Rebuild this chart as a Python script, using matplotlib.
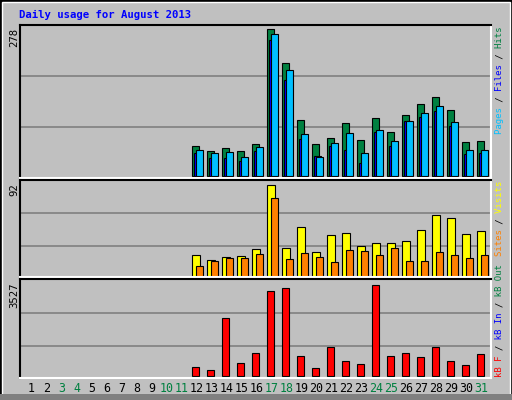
import matplotlib
matplotlib.use("Agg")
import matplotlib.pyplot as plt
from matplotlib.patches import Rectangle

days = list(range(1, 32))
weekend_days = [3, 4, 10, 11, 17, 18, 24, 25, 31]
active_days = list(range(12, 32))
hits = [57, 48, 53, 48, 61, 278, 214, 106, 61, 72, 101, 69, 110, 84, 116, 137, 150, 125, 65, 67]
files = [44, 35, 35, 29, 48, 257, 182, 70, 38, 57, 50, 25, 84, 57, 104, 112, 123, 95, 42, 44]
pages = [50, 44, 46, 36, 55, 269, 201, 80, 36, 63, 82, 44, 88, 67, 104, 120, 133, 103, 50, 50]
visits = [22, 17, 20, 21, 28, 92, 29, 50, 25, 42, 44, 31, 34, 34, 36, 47, 62, 59, 43, 46]
sites = [11, 16, 19, 19, 23, 79, 18, 24, 20, 15, 27, 26, 22, 29, 16, 16, 25, 22, 19, 22]
kbytes = [318, 204, 2190, 471, 853, 3221, 3373, 738, 280, 1082, 547, 433, 3488, 738, 853, 700, 1082, 547, 395, 815]
max_labels = ["278", "92", "3527"]
title = "Daily usage for August 2013"

W, H = 512, 400
fig = plt.figure(figsize=(W/100, H/100), dpi=100)
fig.patch.set_facecolor("#C0C0C0")
FONT = "DejaVu Sans Mono"
FS = 7.2

# outer 3D border
fig.patches.append(Rectangle((0, 0), 1, 1, transform=fig.transFigure, fill=False, lw=2.5, ec="black"))
fig.patches.append(Rectangle((2/W, 2/H), 1-4/W, 1-4/H, transform=fig.transFigure, fill=False, lw=1, ec="white"))
fig.patches.append(Rectangle((0, 0), 1, 6/H, transform=fig.transFigure, fc="#808080", ec="none"))

def add_ax(top, bottom, left=20, right=491):
    ax = fig.add_axes([left/W, 1-bottom/H, (right-left)/W, (bottom-top)/H])
    ax.set_facecolor("#C0C0C0")
    for s in ["left", "top"]:
        ax.spines[s].set_color("black"); ax.spines[s].set_linewidth(1.5)
    for s in ["right", "bottom"]:
        ax.spines[s].set_color("white"); ax.spines[s].set_linewidth(1.5)
    ax.set_xticks([]); ax.set_yticks([])
    ax.set_xlim(0.233, 31.63)
    return ax

def grid(ax, vals):
    for v in vals:
        ax.axhline(v, color="#808080", lw=1.2, zorder=0)

kw = dict(align="edge", edgecolor="black", linewidth=0.8)

ax1 = add_ax(25, 178)
ax1.set_ylim(-3.8, 286)
grid(ax1, [92.9, 189.5])
ax1.bar([d-0.33 for d in active_days], hits, width=0.48, color="#008040", **kw)
ax1.bar([d-0.2 for d in active_days], files, width=0.48, color="#0000FF", **kw)
ax1.bar([d-0.06 for d in active_days], pages, width=0.5, color="#00BFFF", **kw)

ax2 = add_ax(180, 277)
ax2.set_ylim(-0.3, 96.7)
grid(ax2, [30.7, 63.7])
ax2.bar([d-0.33 for d in active_days], visits, width=0.55, color="#FFFF00", **kw)
ax2.bar([d-0.06 for d in active_days], sites, width=0.5, color="#FF8000", **kw)

ax3 = add_ax(279, 378)
ax3.set_ylim(-88, 3699)
grid(ax3, [1136, 2397])
ax3.bar([d-0.33 for d in active_days], kbytes, width=0.48, color="#FF0000", **kw)

# title
fig.text(19/W, 1-15/H, title, family=FONT, fontsize=FS+0.5, weight="bold", color="#0000FF", va="center", ha="left")

# left max labels
for lab, top in zip(max_labels, [28, 183, 282]):
    fig.text(14/W, 1-top/H, lab, family=FONT, fontsize=FS+0.5, rotation=90, ha="center", va="top", color="black")

# day labels
for d in days:
    c = "#008040" if d in weekend_days else "black"
    x = ax3.transData.transform((d, 0))[0]
    fig.text(x/W, 1-389/H, str(d), family=FONT, fontsize=FS+1.2, color=c, ha="center", va="center")

RFS = 6.5
def multi_label(parts, anchor_y, va):
    full = "".join(p for p, _ in parts)
    pos = 0
    for p, col in parts:
        s = " "*pos + p + " "*(len(full)-pos-len(p))
        fig.text(500/W, 1-anchor_y/H, s, family=FONT, fontsize=RFS, rotation=90,
                 ha="center", va=va, color=col)
        pos += len(p)

multi_label([("Pages", "#00BFFF"), (" / ", "black"), ("Files", "#0000FF"), (" / ", "black"), ("Hits", "#008040")], 27, "top")
multi_label([("Sites", "#FF8000"), (" / ", "black"), ("Visits", "#FFFF00")], 181, "top")
multi_label([("kB F", "#FF0000"), (" / ", "black"), ("kB In", "#0000FF"), (" / ", "black"), ("kB Out", "#008040")], 377, "bottom")

fig.savefig("out.png", dpi=100, facecolor=fig.get_facecolor())
